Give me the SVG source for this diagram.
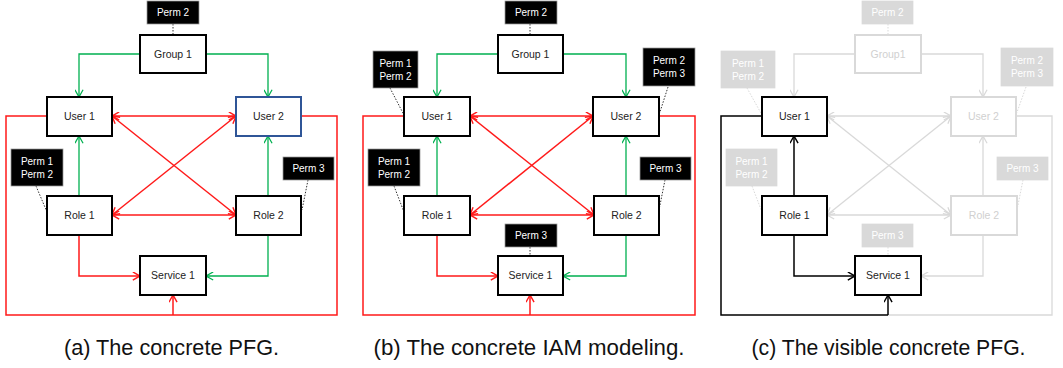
<svg xmlns="http://www.w3.org/2000/svg" width="1063" height="368" viewBox="0 0 1063 368">
<style>
.node rect{fill:#fff;stroke:#000;stroke-width:2}
.node text{font-family:"Liberation Sans",Arial,sans-serif;font-size:10.5px;fill:#222;text-anchor:middle}
.perm rect{fill:#000;stroke:#999;stroke-width:0.75}
.perm text{font-family:"Liberation Sans",Arial,sans-serif;font-size:10px;fill:#fff;text-anchor:middle}
.gnode rect{fill:#fff;stroke:#d9d9d9;stroke-width:2}
.gnode text{font-family:"Liberation Sans",Arial,sans-serif;font-size:10.5px;fill:#d0d0d0;text-anchor:middle}
.gperm rect{fill:#d9d9d9;stroke:#d9d9d9;stroke-width:0.75}
.gperm text{font-family:"Liberation Sans",Arial,sans-serif;font-size:10px;fill:#fff;text-anchor:middle}
.red{fill:none;stroke:#ff1a1a;stroke-width:1.5}
.redd{fill:none;stroke:#ff1a1a;stroke-width:1.5;marker-start:url(#ar);marker-end:url(#ar)}
.rede{fill:none;stroke:#ff1a1a;stroke-width:1.5;marker-end:url(#ar)}
.grn{fill:none;stroke:#00b050;stroke-width:1.3;marker-end:url(#ag)}
.blk{fill:none;stroke:#000;stroke-width:1.5}
.blke{fill:none;stroke:#000;stroke-width:1.5;marker-end:url(#ak)}
.gry{fill:none;stroke:#d9d9d9;stroke-width:1.3}
.grye{fill:none;stroke:#d9d9d9;stroke-width:1.3;marker-end:url(#ay)}
.gryd{fill:none;stroke:#d9d9d9;stroke-width:1.3;marker-start:url(#ay);marker-end:url(#ay)}
.dot{fill:none;stroke:#333;stroke-width:1;stroke-dasharray:1.5 1.5}
.gdot{fill:none;stroke:#d9d9d9;stroke-width:1;stroke-dasharray:1.5 1.5}
.cap{font-family:"Liberation Sans",Arial,sans-serif;font-size:22px;fill:#111;text-anchor:middle}
</style>
<defs>
<marker id="ar" viewBox="0 0 10 10" refX="9" refY="5" markerWidth="9" markerHeight="9" markerUnits="userSpaceOnUse" orient="auto-start-reverse"><path d="M1,0.5 L9,5 L1,9.5" fill="none" stroke="#ff1a1a" stroke-width="1.6"/></marker>
<marker id="ag" viewBox="0 0 10 10" refX="9" refY="5" markerWidth="9" markerHeight="9" markerUnits="userSpaceOnUse" orient="auto-start-reverse"><path d="M1,0.5 L9,5 L1,9.5" fill="none" stroke="#00b050" stroke-width="1.4"/></marker>
<marker id="ak" viewBox="0 0 10 10" refX="9" refY="5" markerWidth="9" markerHeight="9" markerUnits="userSpaceOnUse" orient="auto-start-reverse"><path d="M1,0.5 L9,5 L1,9.5" fill="none" stroke="#000" stroke-width="1.6"/></marker>
<marker id="ay" viewBox="0 0 10 10" refX="9" refY="5" markerWidth="9" markerHeight="9" markerUnits="userSpaceOnUse" orient="auto-start-reverse"><path d="M1,0.5 L9,5 L1,9.5" fill="none" stroke="#d9d9d9" stroke-width="1.4"/></marker>
</defs>
<rect width="1063" height="368" fill="#fff"/>

<!-- Panel (a) -->
<g id="panel-a">
<g id="a-connectors">
<path class="red" d="M47,116 H6 V315 H173"/>
<path class="red" d="M301,116 H337 V315 H173"/>
<path class="rede" d="M173,315 V295"/>
<path class="grn" d="M140,54 H79 V97"/>
<path class="grn" d="M206,54 H268 V97"/>
<path class="grn" d="M79,196 V136"/>
<path class="grn" d="M268,196 V136"/>
<path class="rede" d="M79,235 V276 H140"/>
<path class="grn" d="M268,235 V276 H206"/>
<path class="redd" d="M112,116 H236"/>
<path class="redd" d="M112,215 H236"/>
<path class="redd" d="M112,116 L236,215"/>
<path class="redd" d="M236,116 L112,215"/>
<path class="dot" d="M173,24 V35"/>
<path class="dot" d="M36,186 L47,212"/>
<path class="dot" d="M308,180 L302,210"/>
</g>
<g id="a-perm2" class="perm"><rect x="147" y="1" width="52" height="23"/><text x="173" y="16">Perm 2</text></g>
<g id="a-group1" class="node"><rect x="140" y="35" width="66" height="38"/><text x="173" y="58">Group 1</text></g>
<g id="a-user1" class="node"><rect x="47" y="97" width="65" height="39"/><text x="79.5" y="120">User 1</text></g>
<g id="a-user2" class="node"><rect x="236" y="97" width="65" height="39" style="stroke:#2f5597"/><text x="268.5" y="120">User 2</text></g>
<g id="a-perm12" class="perm"><rect x="11" y="149" width="52" height="37"/><text x="37" y="164.5">Perm 1</text><text x="37" y="178">Perm 2</text></g>
<g id="a-perm3" class="perm"><rect x="283" y="157" width="51" height="23"/><text x="308.5" y="172">Perm 3</text></g>
<g id="a-role1" class="node"><rect x="47" y="196" width="65" height="39"/><text x="79.5" y="219">Role 1</text></g>
<g id="a-role2" class="node"><rect x="236" y="196" width="65" height="39"/><text x="268.5" y="219">Role 2</text></g>
<g id="a-service1" class="node"><rect x="140" y="256" width="66" height="39"/><text x="173" y="279">Service 1</text></g>
</g>

<!-- Panel (b) -->
<g id="panel-b" transform="translate(357,0)">
<g id="b-connectors">
<path class="red" d="M47,116 H6 V315 H173"/>
<path class="red" d="M302,116 H338 V315 H173"/>
<path class="rede" d="M173,315 V295"/>
<path class="grn" d="M141,54 H80 V97"/>
<path class="grn" d="M206,54 H269 V97"/>
<path class="grn" d="M80,196 V136"/>
<path class="grn" d="M269,196 V136"/>
<path class="rede" d="M80,235 V276 H141"/>
<path class="grn" d="M269,235 V276 H206"/>
<path class="redd" d="M113,116 H236"/>
<path class="redd" d="M113,215 H237"/>
<path class="redd" d="M113,116 L237,215"/>
<path class="redd" d="M236,116 L113,215"/>
<path class="dot" d="M173,24 V35"/>
<path class="dot" d="M33,88 L47,115"/>
<path class="dot" d="M311,87 L302,115"/>
<path class="dot" d="M37,186 L47,212"/>
<path class="dot" d="M308,180 L302,210"/>
<path class="dot" d="M173,247 V256"/>
</g>
<g id="b-perm2" class="perm"><rect x="148" y="1" width="52" height="23"/><text x="174" y="16">Perm 2</text></g>
<g id="b-group1" class="node"><rect x="141" y="35" width="65" height="38"/><text x="173.5" y="58">Group 1</text></g>
<g id="b-perm12-top" class="perm"><rect x="16" y="51" width="45" height="37"/><text x="38.5" y="66.5">Perm 1</text><text x="38.5" y="80">Perm 2</text></g>
<g id="b-perm23-top" class="perm"><rect x="286" y="48" width="52" height="38"/><text x="312" y="63.5">Perm 2</text><text x="312" y="77">Perm 3</text></g>
<g id="b-user1" class="node"><rect x="47" y="97" width="66" height="39"/><text x="80" y="120">User 1</text></g>
<g id="b-user2" class="node"><rect x="236" y="97" width="66" height="39"/><text x="269" y="120">User 2</text></g>
<g id="b-perm12" class="perm"><rect x="11" y="149" width="52" height="37"/><text x="37" y="164.5">Perm 1</text><text x="37" y="178">Perm 2</text></g>
<g id="b-perm3" class="perm"><rect x="283" y="157" width="51" height="23"/><text x="308.5" y="172">Perm 3</text></g>
<g id="b-role1" class="node"><rect x="47" y="196" width="66" height="39"/><text x="80" y="219">Role 1</text></g>
<g id="b-role2" class="node"><rect x="237" y="196" width="65" height="39"/><text x="269.5" y="219">Role 2</text></g>
<g id="b-perm3-svc" class="perm"><rect x="148" y="224" width="52" height="23"/><text x="174" y="239">Perm 3</text></g>
<g id="b-service1" class="node"><rect x="141" y="256" width="65" height="39"/><text x="173.5" y="279">Service 1</text></g>
</g>

<!-- Panel (c) -->
<g id="panel-c" transform="translate(715,0)">
<g id="c-connectors">
<path class="gry" d="M301,116 H337 V315 H173"/>
<path class="grye" d="M140,54 H79 V97"/>
<path class="grye" d="M206,54 H268 V97"/>
<path class="grye" d="M268,196 V136"/>
<path class="grye" d="M268,235 V276 H206"/>
<path class="gryd" d="M112,116 H236"/>
<path class="gryd" d="M112,215 H236"/>
<path class="gryd" d="M112,116 L236,215"/>
<path class="gryd" d="M236,116 L112,215"/>
<path class="gdot" d="M173,24 V35"/>
<path class="gdot" d="M32,88 L47,115"/>
<path class="gdot" d="M311,87 L301,115"/>
<path class="gdot" d="M37,186 L47,212"/>
<path class="gdot" d="M308,180 L302,210"/>
<path class="gdot" d="M173,247 V256"/>
<path class="blk" d="M47,116 H6 V315 H173"/>
<path class="blke" d="M173,315 V295"/>
<path class="blke" d="M79,196 V136"/>
<path class="blke" d="M79,235 V276 H140"/>
</g>
<g id="c-perm2" class="gperm"><rect x="147" y="1" width="51" height="23"/><text x="172.5" y="16">Perm 2</text></g>
<g id="c-group1" class="gnode"><rect x="140" y="35" width="66" height="38"/><text x="173" y="58">Group1</text></g>
<g id="c-perm12-top" class="gperm"><rect x="6" y="51" width="54" height="37"/><text x="33" y="66.5">Perm 1</text><text x="33" y="80">Perm 2</text></g>
<g id="c-perm23-top" class="gperm"><rect x="286" y="48" width="52" height="38"/><text x="312" y="63.5">Perm 2</text><text x="312" y="77">Perm 3</text></g>
<g id="c-user1" class="node"><rect x="47" y="97" width="65" height="39"/><text x="79.5" y="120">User 1</text></g>
<g id="c-user2" class="gnode"><rect x="236" y="97" width="65" height="39"/><text x="268.5" y="120">User 2</text></g>
<g id="c-perm12" class="gperm"><rect x="11" y="149" width="51" height="37"/><text x="36.5" y="164.5">Perm 1</text><text x="36.5" y="178">Perm 2</text></g>
<g id="c-perm3" class="gperm"><rect x="282" y="157" width="51" height="23"/><text x="307.5" y="172">Perm 3</text></g>
<g id="c-role1" class="node"><rect x="47" y="196" width="65" height="39"/><text x="79.5" y="219">Role 1</text></g>
<g id="c-role2" class="gnode"><rect x="236" y="196" width="66" height="39"/><text x="269" y="219">Role 2</text></g>
<g id="c-perm3-svc" class="gperm"><rect x="147" y="224" width="51" height="23"/><text x="172.5" y="239">Perm 3</text></g>
<g id="c-service1" class="node"><rect x="140" y="256" width="66" height="39"/><text x="173" y="279">Service 1</text></g>
</g>

<text class="cap" x="171.5" y="355" textLength="215" lengthAdjust="spacingAndGlyphs">(a) The concrete PFG.</text>
<text class="cap" x="529" y="355" textLength="311" lengthAdjust="spacingAndGlyphs">(b) The concrete IAM modeling.</text>
<text class="cap" x="888.5" y="355" textLength="274" lengthAdjust="spacingAndGlyphs">(c) The visible concrete PFG.</text>
</svg>
